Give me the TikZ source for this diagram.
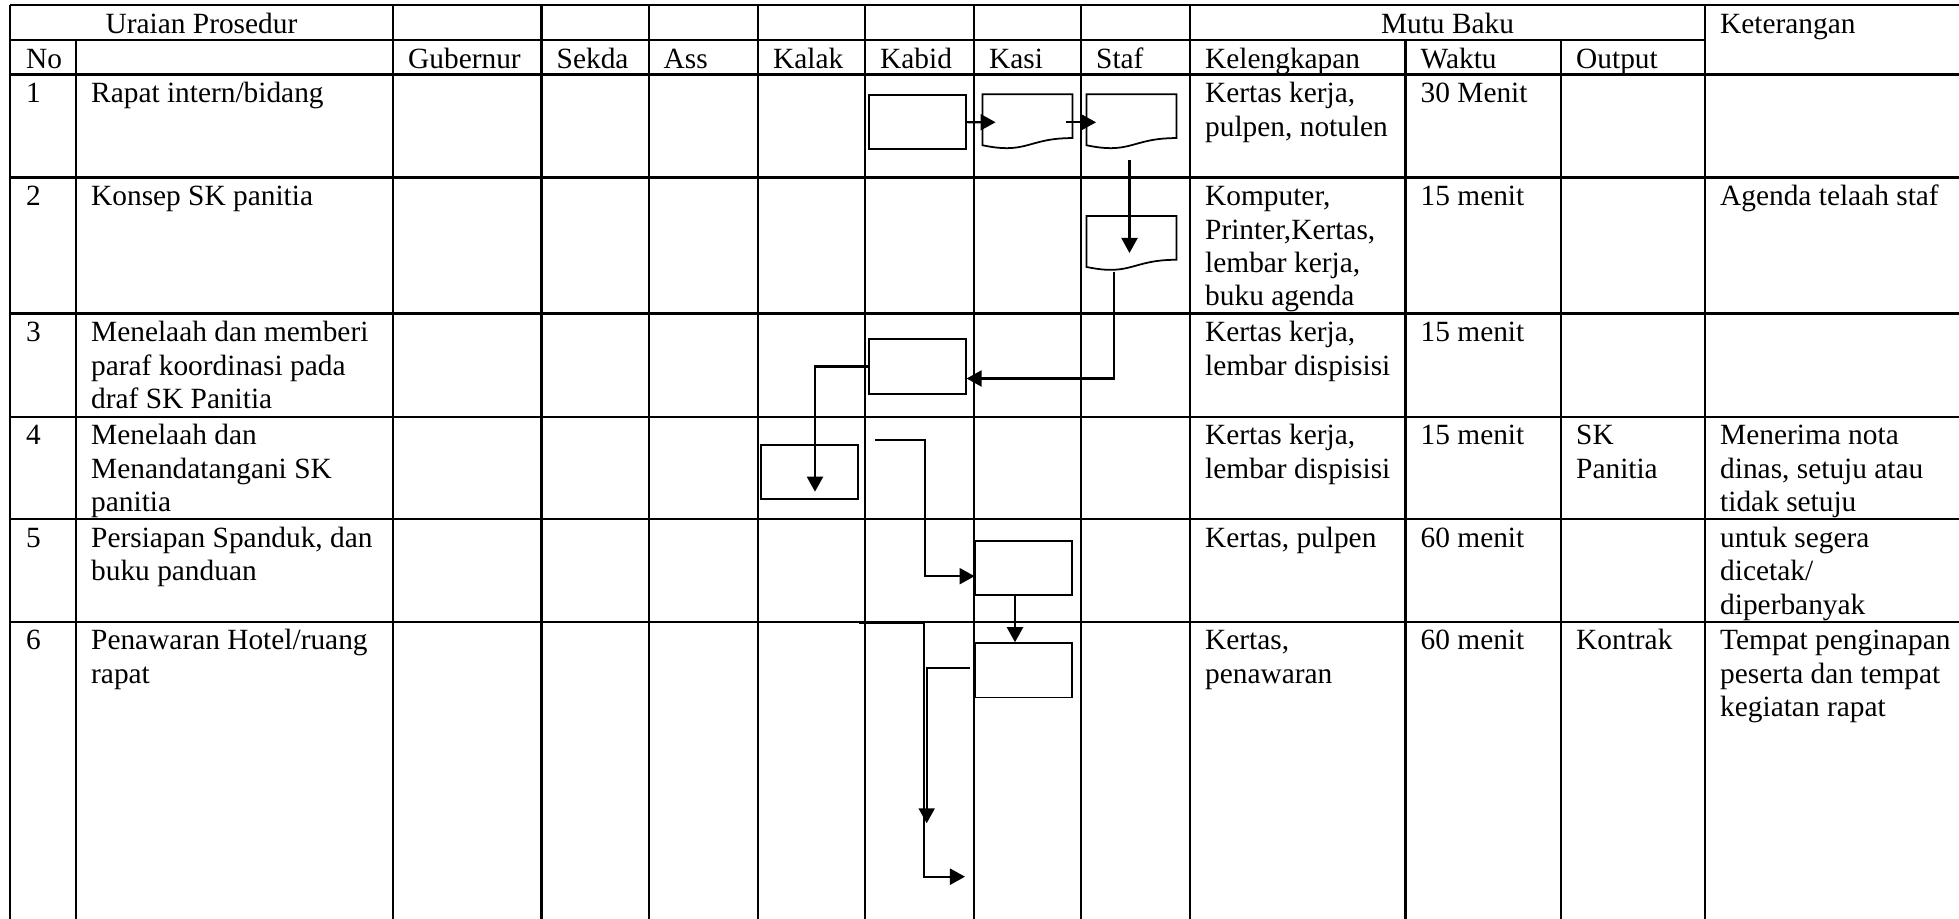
\documentclass[tikz,border=0pt]{standalone}
\usepackage{fontspec}
\setmainfont{Liberation Serif}
\usepackage{tikz}
\usetikzlibrary{arrows.meta,calc,positioning}

\newcommand\sr{\rule{0pt}{7pt}}
% document symbol drawn round an empty node
\newcommand\docoutline[1]{\draw[line width=0.5pt] ($(#1.north west)+(0,51)$) -- (#1.north west) -- (#1.north east) -- ($(#1.north east)+(0,43.8)$) .. controls ($(#1.north)+(0,43.8)$) and ($(#1.north)+(0,60.4)$) .. ($(#1.north west)+(0,51)$) -- cycle;}

\tikzset{
  tabline/.style={line width=0.6pt},
  celltext/.style={anchor=north west,inner sep=0pt,align=left,font=\fontsize{8.35}{9.47}\selectfont},
  proc/.style={draw,line width=0.5pt,minimum width=0.964cm,minimum height=0.543cm,inner sep=0pt},
  docarea/.style={minimum width=0.884cm,minimum height=0.546cm,inner sep=0pt},
  flow/.style={line width=0.6pt,-{Triangle[length=1.5mm,width=1.6mm]}}
}

\begin{document}
\begin{tikzpicture}[x=0.01cm,y=-0.01cm]
\useasboundingbox (0,0) rectangle (1959,919);

% table
\foreach \r in {5,74.5,177.5,313.5,416.7,519.3,621.7} \draw[tabline] (10,\r)--(1959,\r);
\draw[tabline] (10,40)--(1705,40);
\foreach \c in {10,393,541.5,648.6,758,865,974,1081,1190,1705} \draw[tabline] (\c,5)--(\c,919);
\foreach \c in {76,1405.5,1561} \draw[tabline] (\c,40)--(\c,919);

% header
\node[celltext,anchor=north] (hUraian) at (201.5,7.9) {\sr Uraian Prosedur};
\node[celltext,anchor=north] (hMutu) at (1447.5,7.9) {\sr Mutu Baku};
\node[celltext] (hKet) at (1719.5,7.9) {\sr Keterangan};
\foreach \x/\lab [count=\i] in {25.5/No,407.5/Gubernur,556/Sekda,663/Ass,772.5/Kalak,879.5/Kabid,988.5/Kasi,1095.5/Staf,1204.5/Kelengkapan,1420/Waktu,1575.5/Output}
  \node[celltext] (h\i) at (\x,42.9) {\sr \lab};

% rows
\foreach \y/\n in {77.4/1,180.4/2,316.4/3,419.6/4,522.2/5,624.6/6}
  \node[celltext] (no\n) at (25.5,\y) {\sr\n};
\node[celltext] (ur1) at (90.5,77.4) {\sr Rapat intern/bidang};
\node[celltext] (ur2) at (90.5,180.4) {\sr Konsep SK panitia};
\node[celltext] (ur3) at (90.5,316.4) {\sr Menelaah dan memberi\\paraf koordinasi pada\\draf SK Panitia};
\node[celltext] (ur4) at (90.5,419.6) {\sr Menelaah dan\\Menandatangani SK\\panitia};
\node[celltext] (ur5) at (90.5,522.2) {\sr Persiapan Spanduk, dan\\buku panduan};
\node[celltext] (ur6) at (90.5,624.6) {\sr Penawaran Hotel/ruang\\rapat};

\node[celltext] (kel1) at (1204.5,77.4) {\sr Kertas kerja,\\pulpen, notulen};
\node[celltext] (kel2) at (1204.5,180.4) {\sr Komputer,\\Printer,Kertas,\\lembar kerja,\\buku agenda};
\node[celltext] (kel3) at (1204.5,316.4) {\sr Kertas kerja,\\lembar dispisisi};
\node[celltext] (kel4) at (1204.5,419.6) {\sr Kertas kerja,\\lembar dispisisi};
\node[celltext] (kel5) at (1204.5,522.2) {\sr Kertas, pulpen};
\node[celltext] (kel6) at (1204.5,624.6) {\sr Kertas,\\penawaran};

\node[celltext] (wkt1) at (1420,77.4) {\sr 30 Menit};
\node[celltext] (wkt2) at (1420,180.4) {\sr 15 menit};
\node[celltext] (wkt3) at (1420,316.4) {\sr 15 menit};
\node[celltext] (wkt4) at (1420,419.6) {\sr 15 menit};
\node[celltext] (wkt5) at (1420,522.2) {\sr 60 menit};
\node[celltext] (wkt6) at (1420,624.6) {\sr 60 menit};

\node[celltext] (out4) at (1575.5,419.6) {\sr SK\\Panitia};
\node[celltext] (out6) at (1575.5,624.6) {\sr Kontrak};

\node[celltext] (ket2) at (1719.5,180.4) {\sr Agenda telaah staf};
\node[celltext] (ket4) at (1719.5,419.6) {\sr Menerima nota\\dinas, setuju atau\\tidak setuju};
\node[celltext] (ket5) at (1719.5,522.2) {\sr untuk segera\\dicetak/\\diperbanyak};
\node[celltext] (ket6) at (1719.5,624.6) {\sr Tempat penginapan\\peserta dan tempat\\kegiatan rapat};

% flow symbols
\node[proc] (kabid1) at (917.5,122.2) {};
\node[docarea] (kasi1) at (1027.5,122.3) {};
\node[docarea] (staf1) at (1131.5,122.3) {};
\node[docarea] (staf2) at (1131.5,244) {};
\node[proc] (kabid3) at (917.5,366.5) {};
\node[proc] (kalak4) at (809.5,472.2) {};
\node[proc] (kasi5) at (1023.7,568.2) {};
\node[proc] (kasi6) at (1023.7,670.3) {};
\docoutline{kasi1}
\docoutline{staf1}
\docoutline{staf2}
\coordinate (k4) at (875,440);
\coordinate (k6) at (859.3,623.3);
\coordinate (k6a) at (965,876.7);
\coordinate (k6b) at (926.7,823.3);

% connectors
\draw[flow] (kabid1.east) -- ($(kasi1.west)+(13,0)$);
\draw[flow] ($(kasi1.east)+(-6,0)$) -- ($(staf1.west)+(9.5,0)$);
\draw[flow] ($(staf1.south)+(-2,10)$) -- ($(staf2.center)+(-2,9)$);
\draw[flow] ($(staf2.south)+(-17.5,0)$) |- ($(kabid3.east)+(0,12)$);
\draw[flow] (kabid3.west) -| ($(kalak4.center)+(5.5,19.5)$);
\draw[flow] (k4) -- ++(50,0) |- ($(kasi5.west)+(0,8)$);
\draw[flow] ($(kasi5.south)+(-8.7,0)$) -- ($(kasi6.north)+(-8.7,0)$);
\draw[flow] (k6) -- ++(64.7,0) |- (k6a);
\draw[flow] ($(kasi6.west)+(-5,-2.6)$) -| (k6b);
\end{tikzpicture}
\end{document}
